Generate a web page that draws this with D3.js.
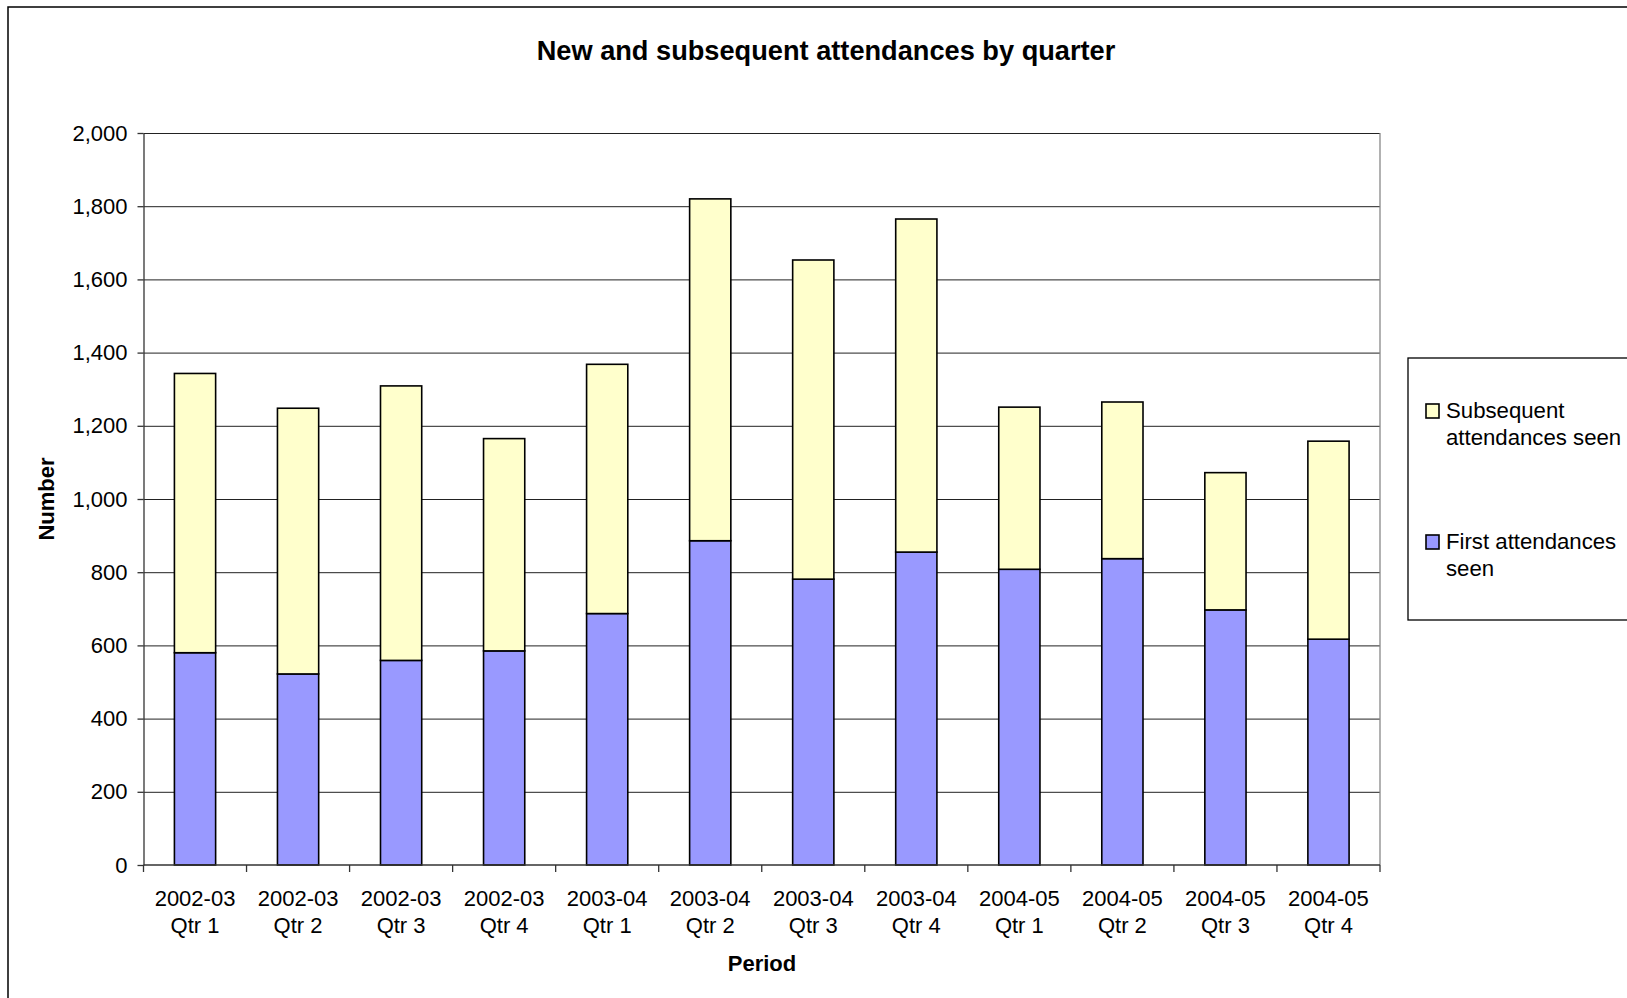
<!DOCTYPE html>
<html lang="en">
<head>
  <meta charset="UTF-8">
  <title>New and subsequent attendances by quarter</title>
  <script src="https://d3js.org/d3.v7.min.js"></script>
  <style>
    body { margin: 0; background: #fff; }
    svg { display: block; font-family: "Liberation Sans", Arial, sans-serif; }
    .grid line { stroke: #222; stroke-width: 1px; }
    .axis text { font-size: 22px; fill: #000; }
    .axis path, .axis line { stroke: #333; stroke-width: 1.3px; }
  </style>
</head>
<body>
  <svg></svg>

  <script>
    // dados
    const periods = ['2002-03', '2002-03', '2002-03', '2002-03', '2003-04', '2003-04',
                     '2003-04', '2003-04', '2004-05', '2004-05', '2004-05', '2004-05'];
    const quarters = ['Qtr 1', 'Qtr 2', 'Qtr 3', 'Qtr 4', 'Qtr 1', 'Qtr 2',
                      'Qtr 3', 'Qtr 4', 'Qtr 1', 'Qtr 2', 'Qtr 3', 'Qtr 4'];
    const firstSeen = [580, 522, 559, 585, 687, 886, 781, 855, 808, 837, 697, 617];
    const subsequentSeen = [763, 726, 750, 580, 681, 934, 872, 910, 443, 428, 375, 541];
    const yTicks = [0, 200, 400, 600, 800, 1000, 1200, 1400, 1600, 1800, 2000];
    const seriesNames = ['First attendances seen', 'Subsequent attendances seen'];
    const seriesColors = ['#9999ff', '#ffffcc'];

    const width = 1627;
    const height = 998;
    const plot = { left: 143.5, right: 1380, top: 133, bottom: 865 };

    const svg = d3.select('svg')
      .attr('width', width)
      .attr('height', height);

    // moldura externa
    svg.append('rect')
      .attr('x', 8).attr('y', 7)
      .attr('width', 1700).attr('height', 1100)
      .attr('fill', 'none')
      .attr('stroke', '#000')
      .attr('stroke-width', 1.5);

    const data = periods.map((p, i) => ({
      key: i,
      period: p,
      quarter: quarters[i],
      first: firstSeen[i],
      subsequent: subsequentSeen[i]
    }));

    const xScale = d3.scaleBand()
      .domain(data.map(d => d.key))
      .range([plot.left, plot.right])
      .paddingInner(0.6)
      .paddingOuter(0.3);

    const yScale = d3.scaleLinear()
      .domain([0, 2000])
      .range([plot.bottom, plot.top]);

    // linhas de grade
    svg.append('g')
      .attr('class', 'grid')
      .selectAll('line')
      .data(yTicks.filter(t => t > 0))
      .join('line')
      .attr('x1', plot.left)
      .attr('x2', plot.right)
      .attr('y1', d => yScale(d) + 0.5)
      .attr('y2', d => yScale(d) + 0.5)
      .attr('stroke', d => d === 2000 ? '#888' : '#222');

    // borda direita da área do gráfico
    svg.append('line')
      .attr('x1', plot.right).attr('x2', plot.right)
      .attr('y1', plot.top).attr('y2', plot.bottom)
      .attr('stroke', '#888').attr('stroke-width', 1.3);

    const stack = d3.stack().keys(['first', 'subsequent']);
    const series = stack(data);

    svg.append('g')
      .selectAll('g')
      .data(series)
      .join('g')
      .attr('fill', (d, i) => seriesColors[i])
      .selectAll('rect')
      .data(d => d)
      .join('rect')
      .attr('x', d => xScale(d.data.key))
      .attr('y', d => yScale(d[1]))
      .attr('width', xScale.bandwidth())
      .attr('height', d => yScale(d[0]) - yScale(d[1]))
      .attr('stroke', '#000')
      .attr('stroke-width', 1.6);

    // eixo Y
    const yAxis = svg.append('g')
      .attr('class', 'axis')
      .attr('transform', `translate(${plot.left},0)`)
      .call(d3.axisLeft(yScale)
        .tickValues(yTicks)
        .tickFormat(d3.format(','))
        .tickSize(6)
        .tickSizeOuter(0)
        .tickPadding(10));

    // eixo X com marcas nas divisões das categorias
    const step = xScale.step();
    const x0 = plot.left;
    const xAxis = svg.append('g')
      .attr('class', 'axis')
      .attr('transform', `translate(0,${plot.bottom})`);

    xAxis.append('line')
      .attr('x1', plot.left).attr('x2', plot.right)
      .attr('y1', 0).attr('y2', 0);

    xAxis.selectAll('.tick')
      .data(d3.range(data.length + 1))
      .join('line')
      .attr('class', 'tick')
      .attr('x1', i => x0 + i * step)
      .attr('x2', i => x0 + i * step)
      .attr('y1', 0).attr('y2', 7);

    const labels = xAxis.selectAll('text')
      .data(data)
      .join('text')
      .attr('text-anchor', 'middle')
      .attr('x', d => xScale(d.key) + xScale.bandwidth() / 2)
      .attr('y', 40.5);
    labels.append('tspan')
      .attr('x', d => xScale(d.key) + xScale.bandwidth() / 2)
      .text(d => d.period);
    labels.append('tspan')
      .attr('x', d => xScale(d.key) + xScale.bandwidth() / 2)
      .attr('dy', 27.5)
      .text(d => d.quarter);

    // títulos
    svg.append('text')
      .attr('x', 826)
      .attr('y', 60)
      .attr('text-anchor', 'middle')
      .attr('font-size', 27.2)
      .attr('font-weight', 'bold')
      .text('New and subsequent attendances by quarter');

    svg.append('text')
      .attr('x', 762)
      .attr('y', 971)
      .attr('text-anchor', 'middle')
      .attr('font-size', 22)
      .attr('font-weight', 'bold')
      .text('Period');

    svg.append('text')
      .attr('transform', 'translate(54,499) rotate(-90)')
      .attr('text-anchor', 'middle')
      .attr('font-size', 22)
      .attr('font-weight', 'bold')
      .text('Number');

    // legenda
    const legend = svg.append('g');
    legend.append('rect')
      .attr('x', 1408).attr('y', 358)
      .attr('width', 400).attr('height', 262)
      .attr('fill', '#fff')
      .attr('stroke', '#000')
      .attr('stroke-width', 1.3);

    const legendItems = [
      { lines: ['Subsequent', 'attendances seen'], color: seriesColors[1], y: 418 },
      { lines: ['First attendances', 'seen'], color: seriesColors[0], y: 549 }
    ];

    legendItems.forEach(item => {
      legend.append('rect')
        .attr('x', 1426).attr('y', item.y - 14)
        .attr('width', 13).attr('height', 14)
        .attr('fill', item.color)
        .attr('stroke', '#000')
        .attr('stroke-width', 1.6);
      const t = legend.append('text')
        .attr('font-size', 22.2)
        .attr('y', item.y);
      item.lines.forEach((line, j) => {
        t.append('tspan')
          .attr('x', 1446)
          .attr('dy', j === 0 ? 0 : 27)
          .text(line);
      });
    });
  </script>
</body>
</html>
